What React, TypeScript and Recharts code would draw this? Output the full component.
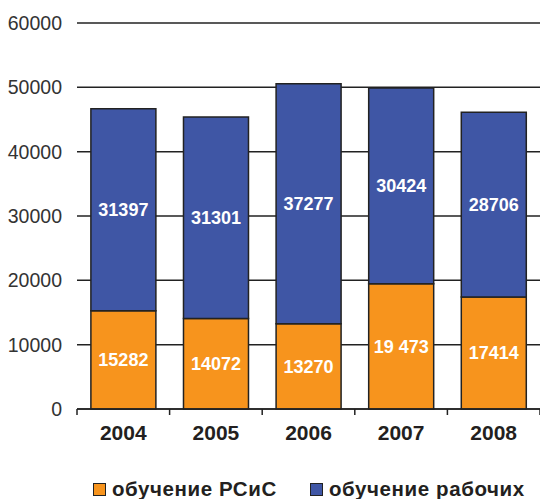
import React from 'react';
import { BarChart, Bar, XAxis, YAxis, CartesianGrid, LabelList, Legend } from 'recharts';

const years = ['2004', '2005', '2006', '2007', '2008'];
const rsisValues = [15282, 14072, 13270, 19473, 17414];
const rsisLabels = ['15282', '14072', '13270', '19 473', '17414'];
const workerValues = [31397, 31301, 37277, 30424, 28706];
const workerLabels = ['31397', '31301', '37277', '30424', '28706'];
const yTicks = [0, 10000, 20000, 30000, 40000, 50000, 60000];
const seriesNames = ['обучение РСиС', 'обучение рабочих'];
const colors = ['#F7941D', '#3F56A5'];

const data = years.map((y, i) => ({
  year: y,
  rsis: rsisValues[i],
  workers: workerValues[i],
  rsisLabel: rsisLabels[i],
  workersLabel: workerLabels[i],
}));

const FONT = '"Liberation Sans", Arial, sans-serif';

const XTick = (props: any) => {
  const { x, y, payload, index, visibleTicksCount } = props;
  const half = 92.6 / 2;
  return (
    <g>
      <line x1={x - half} y1={y - 8} x2={x - half} y2={y - 2} stroke="#222" strokeWidth={1.5} />
      {index === (visibleTicksCount ?? 5) - 1 && (
        <line x1={x + half} y1={y - 8} x2={x + half} y2={y - 2} stroke="#222" strokeWidth={1.5} />
      )}
      <text x={x} y={y + 23} textAnchor="middle" fontFamily={FONT} fontWeight="bold" fontSize={21} fill="#231F20">
        {payload.value}
      </text>
    </g>
  );
};

const legendLeft = [93, 310];

const LegendContent = () => (
  <div style={{ position: 'relative', height: 34, fontFamily: FONT, fontWeight: 'bold', fontSize: 20.5, color: '#231F20', letterSpacing: 0.6 }}>
    {seriesNames.map((n, i) => (
      <div key={n} style={{ position: 'absolute', left: legendLeft[i], top: 13, display: 'flex', alignItems: 'center', lineHeight: '22px', whiteSpace: 'nowrap' }}>
        <span style={{ display: 'inline-block', width: 11, height: 11, background: colors[i], border: '1.5px solid #222', marginRight: 6 }} />
        <span>{n}</span>
      </div>
    ))}
  </div>
);

export default function App() {
  return (
    <div style={{ position: 'absolute', left: 0, top: 0 }}>
      <BarChart width={540} height={499} data={data} margin={{ top: 23, right: 0, bottom: 0, left: 0 }} barCategoryGap="15%">
        <CartesianGrid vertical={false} stroke="#222" strokeWidth={1.5} />
        <XAxis
          dataKey="year"
          tickLine={false}
          axisLine={{ stroke: '#222', strokeWidth: 1.5 }}
          tick={<XTick />}
          height={56}
          interval={0}
        />
        <YAxis
          width={77}
          domain={[0, 60000]}
          ticks={yTicks}
          axisLine={false}
          tickLine={false}
          tickSize={0}
          tickMargin={15}
          tick={{ fontFamily: FONT, fontSize: 19.5, fill: '#333' }}
        />
        <Legend verticalAlign="bottom" height={34} content={<LegendContent />} wrapperStyle={{ left: 0, width: 540 }} />
        <Bar dataKey="rsis" stackId="a" fill={colors[0]} stroke="#222" strokeWidth={1.5} isAnimationActive={false}>
          <LabelList dataKey="rsisLabel" position="center" fill="#fff" fontFamily={FONT} fontWeight="bold" fontSize={18} />
        </Bar>
        <Bar dataKey="workers" stackId="a" fill={colors[1]} stroke="#222" strokeWidth={1.5} isAnimationActive={false}>
          <LabelList dataKey="workersLabel" position="center" fill="#fff" fontFamily={FONT} fontWeight="bold" fontSize={18} />
        </Bar>
      </BarChart>
    </div>
  );
}
